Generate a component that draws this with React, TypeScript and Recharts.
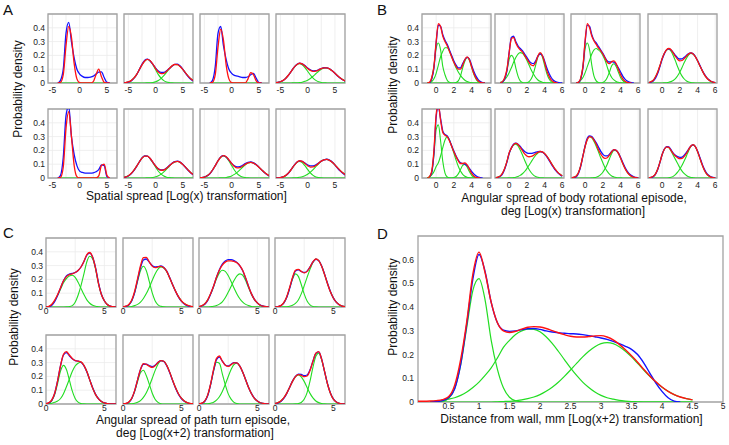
import React from 'react';
import { LineChart, Line, XAxis, YAxis, CartesianGrid, ReferenceArea } from 'recharts';

// ---------- x grids ----------
const A_X = [-6, -5.5, -5, -4.5, -4, -3.5, -3, -2.5, -2, -1.5, -1, -0.5, 0, 0.5, 1, 1.5, 2, 2.5, 3, 3.5, 4, 4.5, 5, 5.5, 6, 6.5, 7];
const B_X = [-1.5, -1.25, -1, -0.75, -0.5, -0.25, 0, 0.25, 0.5, 0.75, 1, 1.25, 1.5, 1.75, 2, 2.25, 2.5, 2.75, 3, 3.25, 3.5, 3.75, 4, 4.25, 4.5, 4.75, 5, 5.25, 5.5, 5.75, 6];
const C_X = [0, 0.25, 0.5, 0.75, 1, 1.25, 1.5, 1.75, 2, 2.25, 2.5, 2.75, 3, 3.25, 3.5, 3.75, 4, 4.25, 4.5, 4.75, 5, 5.25, 5.5, 5.75, 6];
const D_X = [0, 0.1, 0.2, 0.3, 0.4, 0.5, 0.6, 0.7, 0.8, 0.9, 1, 1.1, 1.2, 1.3, 1.4, 1.5, 1.6, 1.7, 1.8, 1.9, 2, 2.1, 2.2, 2.3, 2.4, 2.5, 2.6, 2.7, 2.8, 2.9, 3, 3.1, 3.2, 3.3, 3.4, 3.5, 3.6, 3.7, 3.8, 3.9, 4, 4.1, 4.2, 4.3, 4.4, 4.5];

// ---------- tick labels ----------
const SMALL_Y_TICKS = [0, 0.1, 0.2, 0.3, 0.4];
const A_TICKS = [-5, -2.5, 0, 2.5, 5];
const A_LABELS = [-5, 0, 5];
const B_TICKS = [0, 2, 4, 6];
const C_TICKS = [0, 2.5, 5];
const C_LABELS = [0, 5];
const D_X_TICKS = [0.5, 1, 1.5, 2, 2.5, 3, 3.5, 4, 4.5, 5];
const D_Y_TICKS = [0, 0.1, 0.2, 0.3, 0.4, 0.5, 0.6];

// ---------- panel A ----------
const A1_BLUE = [null, null, null, null, 0, 0.02, 0.1, 0.36, 0.44, 0.3, 0.18, 0.1, 0.065, 0.048, 0.04, 0.04, 0.043, 0.05, 0.065, 0.078, 0.08, 0.04, 0.005, 0, null, null, null];
const A1_RED = [null, null, null, null, 0, 0.005, 0.06, 0.27, 0.41, 0.33, 0.14, 0.03, 0.002, 0, 0, 0, 0, 0.01, 0.06, 0.1, 0.045, 0.005, 0, 0, null, null, null];
const A1_G = [null, null, null, null, null, 0, 0, 0, 0, 0, 0, 0, 0, 0, 0, 0, 0, 0, 0, 0, 0, 0, 0, null, null, null, null];

const A2_BLUE = [0, 0.002, 0.006, 0.015, 0.033, 0.06, 0.097, 0.135, 0.165, 0.173, 0.16, 0.135, 0.108, 0.087, 0.077, 0.077, 0.088, 0.105, 0.122, 0.135, 0.137, 0.123, 0.098, 0.07, 0.045, 0.025, 0.012];
const A2_RED = [0.001, 0.003, 0.008, 0.017, 0.035, 0.061, 0.096, 0.132, 0.159, 0.171, 0.161, 0.136, 0.105, 0.079, 0.068, 0.07, 0.085, 0.105, 0.124, 0.134, 0.133, 0.119, 0.097, 0.072, 0.048, 0.029, 0.016];
const A2_G1 = [0.001, 0.003, 0.0075, 0.017, 0.035, 0.061, 0.096, 0.132, 0.159, 0.17, 0.159, 0.132, 0.096, 0.061, 0.035, 0.017, 0.0075, 0.003, 0.001, 0, 0, 0, 0, 0, 0, 0, 0];
const A2_G2 = [0, 0, 0, 0, 0, 0, 0, 0, 0, 0.001, 0.002, 0.004, 0.009, 0.018, 0.033, 0.053, 0.077, 0.102, 0.123, 0.134, 0.133, 0.119, 0.097, 0.072, 0.048, 0.029, 0.016];

const A3_BLUE = [null, null, null, null, 0, 0.02, 0.12, 0.36, 0.41, 0.27, 0.17, 0.1, 0.07, 0.055, 0.05, 0.045, 0.04, 0.04, 0.045, 0.06, 0.07, 0.035, 0.003, 0, null, null, null];
const A3_RED = [null, null, null, null, 0, 0.005, 0.06, 0.26, 0.39, 0.31, 0.13, 0.03, 0.002, 0, 0, 0, 0, 0, 0.03, 0.075, 0.06, 0.015, 0, 0, null, null, null];

const A4_BLUE = [0.002, 0.004, 0.009, 0.018, 0.034, 0.057, 0.085, 0.113, 0.134, 0.144, 0.139, 0.126, 0.108, 0.095, 0.088, 0.089, 0.096, 0.105, 0.111, 0.11, 0.103, 0.089, 0.071, 0.051, 0.035, 0.022, 0.012];
const A4_RED = [0.002, 0.004, 0.009, 0.019, 0.035, 0.058, 0.085, 0.113, 0.133, 0.143, 0.138, 0.124, 0.105, 0.091, 0.084, 0.086, 0.094, 0.104, 0.11, 0.109, 0.102, 0.088, 0.071, 0.052, 0.036, 0.023, 0.013];
const A4_G1 = [0.0015, 0.004, 0.009, 0.019, 0.035, 0.058, 0.085, 0.112, 0.132, 0.14, 0.132, 0.112, 0.085, 0.058, 0.035, 0.019, 0.009, 0.004, 0.0015, 0.0005, 0, 0, 0, 0, 0, 0, 0];
const A4_G2 = [0, 0, 0, 0, 0, 0, 0.0005, 0.001, 0.0014, 0.003, 0.006, 0.012, 0.02, 0.033, 0.049, 0.067, 0.085, 0.1, 0.108, 0.109, 0.102, 0.088, 0.071, 0.052, 0.036, 0.023, 0.013];

const A5_BLUE = [null, null, null, null, 0, 0.02, 0.15, 0.45, 0.52, 0.3, 0.17, 0.09, 0.05, 0.04, 0.035, 0.035, 0.035, 0.038, 0.045, 0.06, 0.095, 0.09, 0.01, 0, null, null, null];
const A5_RED = [null, null, null, null, 0, 0.005, 0.08, 0.36, 0.48, 0.3, 0.09, 0.01, 0, 0, 0, 0, 0, 0, 0, 0.015, 0.09, 0.1, 0.02, 0, null, null, null];

const A6_BLUE = [0.002, 0.006, 0.014, 0.03, 0.053, 0.083, 0.116, 0.146, 0.161, 0.159, 0.141, 0.113, 0.086, 0.066, 0.058, 0.06, 0.072, 0.09, 0.107, 0.119, 0.122, 0.115, 0.098, 0.076, 0.054, 0.035, 0.021];
const A6_RED = [0.003, 0.008, 0.016, 0.032, 0.055, 0.084, 0.116, 0.144, 0.159, 0.158, 0.141, 0.114, 0.087, 0.065, 0.056, 0.058, 0.07, 0.088, 0.105, 0.117, 0.12, 0.113, 0.097, 0.077, 0.056, 0.037, 0.023];
const A6_G1 = [0.003, 0.008, 0.016, 0.032, 0.055, 0.084, 0.116, 0.144, 0.159, 0.157, 0.139, 0.11, 0.078, 0.049, 0.028, 0.014, 0.006, 0.0026, 0.001, 0, 0, 0, 0, 0, 0, 0, 0];
const A6_G2 = [0, 0, 0, 0, 0, 0, 0, 0, 0, 0.001, 0.002, 0.004, 0.009, 0.016, 0.028, 0.044, 0.064, 0.085, 0.104, 0.117, 0.12, 0.113, 0.097, 0.077, 0.056, 0.037, 0.023];

const A7_BLUE = [0.001, 0.003, 0.007, 0.015, 0.031, 0.057, 0.09, 0.125, 0.153, 0.162, 0.152, 0.13, 0.106, 0.088, 0.08, 0.082, 0.092, 0.104, 0.113, 0.116, 0.11, 0.097, 0.079, 0.059, 0.04, 0.024, 0.013];
const A7_RED = [0.001, 0.003, 0.007, 0.016, 0.032, 0.058, 0.09, 0.124, 0.151, 0.162, 0.154, 0.132, 0.105, 0.084, 0.073, 0.075, 0.085, 0.099, 0.109, 0.113, 0.108, 0.096, 0.078, 0.059, 0.041, 0.026, 0.015];
const A7_G1 = [0.001, 0.003, 0.007, 0.016, 0.032, 0.058, 0.09, 0.124, 0.15, 0.16, 0.15, 0.124, 0.09, 0.058, 0.032, 0.016, 0.007, 0.003, 0.001, 0, 0, 0, 0, 0, 0, 0, 0];
const A7_G2 = [0, 0, 0, 0, 0, 0, 0, 0, 0.001, 0.002, 0.004, 0.008, 0.015, 0.026, 0.041, 0.059, 0.078, 0.096, 0.108, 0.113, 0.108, 0.096, 0.078, 0.059, 0.041, 0.026, 0.015];

const A8_BLUE = [0, 0.001, 0.003, 0.008, 0.018, 0.036, 0.062, 0.091, 0.114, 0.124, 0.12, 0.108, 0.095, 0.088, 0.088, 0.095, 0.108, 0.122, 0.132, 0.136, 0.13, 0.116, 0.095, 0.071, 0.05, 0.033, 0.019];
const A8_RED = [0, 0.001, 0.003, 0.008, 0.019, 0.037, 0.062, 0.09, 0.113, 0.125, 0.12, 0.105, 0.089, 0.079, 0.08, 0.09, 0.106, 0.122, 0.132, 0.135, 0.128, 0.114, 0.095, 0.073, 0.053, 0.036, 0.022];
const A8_G1 = [0, 0.001, 0.003, 0.008, 0.019, 0.037, 0.062, 0.089, 0.111, 0.12, 0.111, 0.089, 0.062, 0.037, 0.019, 0.008, 0.003, 0.001, 0, 0, 0, 0, 0, 0, 0, 0, 0];
const A8_G2 = [0, 0, 0, 0, 0, 0, 0, 0.001, 0.002, 0.005, 0.009, 0.016, 0.027, 0.042, 0.061, 0.082, 0.103, 0.121, 0.132, 0.135, 0.128, 0.114, 0.095, 0.073, 0.053, 0.036, 0.022];

// ---------- panel B ----------
const B1_BLUE = [null, null, null, 0, 0.03, 0.11, 0.29, 0.42, 0.41, 0.35, 0.31, 0.28, 0.24, 0.2, 0.16, 0.13, 0.11, 0.11, 0.14, 0.17, 0.185, 0.175, 0.13, 0.085, 0.05, 0.025, 0.01, 0.003, 0, null, null];
const B1_RED = [null, null, 0, 0.005, 0.04, 0.12, 0.3, 0.43, 0.41, 0.34, 0.3, 0.27, 0.23, 0.19, 0.15, 0.12, 0.1, 0.1, 0.13, 0.17, 0.19, 0.17, 0.12, 0.07, 0.035, 0.015, 0.005, 0.001, 0, null, null];
const B1_G1 = [null, null, 0, 0, 0.03, 0.12, 0.25, 0.29, 0.24, 0.12, 0.06, 0.02, 0.005, 0, 0, 0, 0, 0, 0, 0, 0, 0, 0, 0, 0, 0, 0, 0, 0, null, null];
const B1_G2 = [null, null, 0, 0, 0.01, 0.03, 0.07, 0.13, 0.19, 0.23, 0.255, 0.255, 0.23, 0.19, 0.15, 0.11, 0.08, 0.055, 0.035, 0.02, 0.01, 0.005, 0.002, 0, 0, 0, 0, 0, 0, null, null];
const B1_G3 = [null, null, 0, 0, 0, 0, 0, 0, 0, 0, 0, 0, 0, 0, 0, 0.003, 0.015, 0.05, 0.11, 0.16, 0.185, 0.165, 0.115, 0.065, 0.03, 0.01, 0.003, 0, 0, null, null];

const B2_BLUE = [null, null, 0.002, 0.008, 0.03, 0.09, 0.22, 0.33, 0.34, 0.3, 0.27, 0.25, 0.235, 0.21, 0.185, 0.16, 0.145, 0.14, 0.16, 0.195, 0.21, 0.2, 0.16, 0.11, 0.07, 0.04, 0.02, 0.01, 0.004, 0.001, 0];
const B2_RED = [null, null, 0.002, 0.01, 0.04, 0.1, 0.22, 0.32, 0.33, 0.29, 0.26, 0.24, 0.225, 0.2, 0.175, 0.15, 0.13, 0.125, 0.15, 0.195, 0.22, 0.2, 0.15, 0.09, 0.05, 0.022, 0.008, 0.002, 0, null, null];
const B2_G1 = [null, null, 0, 0.005, 0.03, 0.09, 0.17, 0.2, 0.18, 0.11, 0.05, 0.015, 0.004, 0, 0, 0, 0, 0, 0, 0, 0, 0, 0, 0, 0, 0, 0, 0, 0, null, null];
const B2_G2 = [null, null, 0.005, 0.012, 0.025, 0.045, 0.075, 0.11, 0.15, 0.185, 0.21, 0.22, 0.215, 0.195, 0.165, 0.13, 0.095, 0.065, 0.04, 0.022, 0.012, 0.005, 0.002, 0, 0, 0, 0, 0, 0, null, null];
const B2_G3 = [null, null, 0, 0, 0, 0, 0, 0, 0, 0, 0, 0, 0, 0, 0.002, 0.01, 0.03, 0.07, 0.13, 0.19, 0.215, 0.19, 0.13, 0.07, 0.03, 0.01, 0.002, 0, 0, null, null];

const B3_BLUE = [null, null, 0, 0.004, 0.03, 0.11, 0.3, 0.42, 0.41, 0.35, 0.31, 0.29, 0.265, 0.24, 0.215, 0.185, 0.16, 0.152, 0.155, 0.15, 0.135, 0.11, 0.08, 0.05, 0.028, 0.014, 0.006, 0.002, 0, null, null];
const B3_RED = [null, null, 0, 0.005, 0.035, 0.12, 0.31, 0.43, 0.4, 0.34, 0.305, 0.28, 0.255, 0.235, 0.21, 0.18, 0.15, 0.14, 0.155, 0.16, 0.14, 0.1, 0.06, 0.03, 0.012, 0.004, 0.001, 0, null, null, null];
const B3_G1 = [null, null, 0, 0, 0.03, 0.12, 0.25, 0.29, 0.24, 0.13, 0.05, 0.015, 0.003, 0, 0, 0, 0, 0, 0, 0, 0, 0, 0, 0, 0, 0, 0, 0, null, null, null];
const B3_G2 = [null, null, 0, 0.005, 0.02, 0.04, 0.075, 0.12, 0.165, 0.21, 0.24, 0.25, 0.24, 0.225, 0.2, 0.165, 0.115, 0.07, 0.04, 0.022, 0.011, 0.005, 0.002, 0, 0, 0, 0, 0, null, null, null];
const B3_G3 = [null, null, 0, 0, 0, 0, 0, 0, 0, 0, 0, 0, 0, 0, 0.004, 0.015, 0.04, 0.08, 0.125, 0.14, 0.12, 0.08, 0.04, 0.017, 0.005, 0.001, 0, 0, null, null, null];

const B4_BLUE = [0.002, 0.007, 0.015, 0.035, 0.07, 0.12, 0.172, 0.213, 0.24, 0.248, 0.24, 0.222, 0.2, 0.182, 0.174, 0.175, 0.186, 0.2, 0.213, 0.218, 0.212, 0.192, 0.163, 0.13, 0.096, 0.066, 0.042, 0.025, 0.013, 0.006, 0.003];
const B4_RED = [0.003, 0.01, 0.02, 0.045, 0.08, 0.127, 0.177, 0.215, 0.241, 0.25, 0.241, 0.218, 0.192, 0.171, 0.16, 0.163, 0.177, 0.195, 0.211, 0.218, 0.211, 0.191, 0.161, 0.127, 0.093, 0.063, 0.04, 0.023, 0.013, 0.006, 0.003];
const B4_G1 = [0.003, 0.01, 0.02, 0.045, 0.08, 0.125, 0.177, 0.214, 0.239, 0.245, 0.231, 0.2, 0.16, 0.118, 0.08, 0.05, 0.029, 0.015, 0.007, 0.003, 0.001, 0, 0, 0, 0, 0, 0, 0, 0, 0, 0];
const B4_G2 = [0, 0, 0, 0, 0, 0, 0, 0.001, 0.002, 0.005, 0.01, 0.018, 0.032, 0.053, 0.08, 0.113, 0.148, 0.18, 0.204, 0.215, 0.21, 0.191, 0.161, 0.127, 0.093, 0.063, 0.04, 0.023, 0.013, 0.006, 0.003];

const B5_BLUE = [null, null, null, 0.008, 0.04, 0.18, 0.44, 0.52, 0.43, 0.34, 0.315, 0.305, 0.275, 0.235, 0.195, 0.16, 0.13, 0.11, 0.105, 0.1, 0.09, 0.07, 0.048, 0.03, 0.016, 0.007, 0.002, 0, null, null, null];
const B5_RED = [null, null, 0, 0.01, 0.05, 0.2, 0.46, 0.53, 0.42, 0.33, 0.31, 0.3, 0.27, 0.23, 0.19, 0.155, 0.125, 0.105, 0.105, 0.11, 0.095, 0.065, 0.035, 0.015, 0.005, 0.001, 0, null, null, null, null];
const B5_G1 = [null, null, 0, 0.005, 0.04, 0.17, 0.35, 0.385, 0.27, 0.12, 0.035, 0.007, 0.001, 0, 0, 0, 0, 0, 0, 0, 0, 0, 0, 0, 0, 0, 0, null, null, null, null];
const B5_G2 = [null, null, 0, 0.01, 0.023, 0.046, 0.083, 0.11, 0.16, 0.22, 0.275, 0.3, 0.277, 0.229, 0.18, 0.13, 0.085, 0.05, 0.027, 0.013, 0.005, 0.002, 0, 0, 0, 0, 0, null, null, null, null];
const B5_G3 = [null, null, 0, 0, 0, 0, 0, 0, 0, 0, 0, 0, 0, 0, 0.003, 0.011, 0.03, 0.061, 0.091, 0.099, 0.08, 0.047, 0.021, 0.007, 0.002, 0, 0, null, null, null, null];

const B6_BLUE = [0.002, 0.005, 0.012, 0.03, 0.065, 0.115, 0.178, 0.218, 0.245, 0.252, 0.245, 0.228, 0.208, 0.192, 0.182, 0.178, 0.178, 0.182, 0.187, 0.191, 0.192, 0.188, 0.175, 0.155, 0.13, 0.103, 0.078, 0.055, 0.037, 0.023, 0.013];
const B6_RED = [0.003, 0.007, 0.015, 0.035, 0.07, 0.12, 0.182, 0.218, 0.242, 0.251, 0.243, 0.222, 0.199, 0.175, 0.16, 0.154, 0.156, 0.164, 0.176, 0.186, 0.192, 0.189, 0.177, 0.159, 0.135, 0.108, 0.083, 0.06, 0.041, 0.027, 0.016];
const B6_G1 = [0.003, 0.007, 0.015, 0.035, 0.07, 0.12, 0.178, 0.215, 0.239, 0.245, 0.232, 0.203, 0.168, 0.128, 0.092, 0.062, 0.038, 0.021, 0.011, 0.005, 0.002, 0.001, 0, 0, 0, 0, 0, 0, 0, 0, 0];
const B6_G2 = [0, 0, 0, 0, 0, 0, 0.001, 0.002, 0.003, 0.006, 0.011, 0.019, 0.031, 0.047, 0.068, 0.092, 0.118, 0.143, 0.165, 0.181, 0.19, 0.188, 0.177, 0.159, 0.135, 0.108, 0.083, 0.06, 0.041, 0.027, 0.016];

const B7_BLUE = [0.001, 0.004, 0.01, 0.035, 0.085, 0.16, 0.235, 0.29, 0.305, 0.3, 0.28, 0.255, 0.225, 0.195, 0.172, 0.16, 0.16, 0.172, 0.192, 0.205, 0.2, 0.182, 0.15, 0.112, 0.078, 0.05, 0.03, 0.017, 0.009, 0.004, 0.002];
const B7_RED = [0.002, 0.006, 0.015, 0.04, 0.09, 0.16, 0.23, 0.28, 0.3, 0.295, 0.275, 0.245, 0.205, 0.174, 0.152, 0.142, 0.147, 0.166, 0.19, 0.206, 0.201, 0.18, 0.145, 0.105, 0.07, 0.043, 0.024, 0.012, 0.006, 0.003, 0.001];
const B7_G1 = [0.002, 0.006, 0.015, 0.04, 0.09, 0.16, 0.23, 0.28, 0.3, 0.29, 0.265, 0.23, 0.19, 0.148, 0.11, 0.075, 0.048, 0.028, 0.015, 0.008, 0.004, 0.002, 0.001, 0, 0, 0, 0, 0, 0, 0, 0];
const B7_G2 = [0, 0, 0, 0, 0, 0, 0, 0, 0, 0.001, 0.003, 0.006, 0.012, 0.024, 0.042, 0.068, 0.1, 0.14, 0.177, 0.2, 0.198, 0.178, 0.145, 0.105, 0.07, 0.043, 0.024, 0.012, 0.006, 0.003, 0.001];

const B8_BLUE = [0.001, 0.004, 0.01, 0.028, 0.062, 0.113, 0.17, 0.21, 0.228, 0.225, 0.205, 0.18, 0.165, 0.155, 0.15, 0.152, 0.165, 0.185, 0.21, 0.232, 0.24, 0.228, 0.195, 0.152, 0.106, 0.067, 0.038, 0.02, 0.009, 0.004, 0.002];
const B8_RED = [0.002, 0.005, 0.012, 0.03, 0.065, 0.115, 0.17, 0.208, 0.226, 0.222, 0.2, 0.177, 0.16, 0.147, 0.14, 0.142, 0.157, 0.178, 0.207, 0.232, 0.242, 0.227, 0.192, 0.146, 0.099, 0.06, 0.032, 0.016, 0.007, 0.003, 0.001];
const B8_G1 = [0.002, 0.005, 0.012, 0.03, 0.065, 0.115, 0.17, 0.208, 0.225, 0.22, 0.195, 0.165, 0.135, 0.105, 0.075, 0.05, 0.032, 0.018, 0.009, 0.004, 0.002, 0, 0, 0, 0, 0, 0, 0, 0, 0, 0];
const B8_G2 = [0, 0, 0, 0, 0, 0, 0, 0, 0, 0.002, 0.005, 0.012, 0.025, 0.042, 0.065, 0.092, 0.125, 0.16, 0.198, 0.228, 0.24, 0.227, 0.192, 0.146, 0.099, 0.06, 0.032, 0.016, 0.007, 0.003, 0.001];

// ---------- panel C ----------
const C1_BLUE = [0, 0.002, 0.012, 0.04, 0.085, 0.14, 0.19, 0.225, 0.238, 0.243, 0.25, 0.265, 0.29, 0.33, 0.375, 0.39, 0.36, 0.283, 0.175, 0.092, 0.045, 0.018, 0.006, 0.002, 0];
const C1_RED = [0, 0.005, 0.02, 0.05, 0.09, 0.14, 0.19, 0.22, 0.235, 0.24, 0.25, 0.265, 0.29, 0.33, 0.38, 0.395, 0.36, 0.28, 0.17, 0.09, 0.045, 0.018, 0.006, 0.002, 0];
const C1_G1 = [0, 0.004, 0.017, 0.045, 0.085, 0.13, 0.175, 0.205, 0.225, 0.23, 0.215, 0.18, 0.135, 0.09, 0.052, 0.027, 0.012, 0.005, 0.002, 0, 0, 0, 0, 0, 0];
const C1_G2 = [0, 0, 0, 0, 0, 0, 0, 0.001, 0.003, 0.01, 0.035, 0.085, 0.155, 0.24, 0.328, 0.368, 0.348, 0.275, 0.168, 0.09, 0.045, 0.018, 0.006, 0.002, 0];

const C2_BLUE = [0, 0.004, 0.015, 0.045, 0.105, 0.195, 0.285, 0.34, 0.348, 0.325, 0.3, 0.29, 0.293, 0.297, 0.287, 0.26, 0.213, 0.163, 0.115, 0.073, 0.042, 0.022, 0.01, 0.004, 0.001];
const C2_RED = [0.001, 0.006, 0.018, 0.05, 0.114, 0.205, 0.299, 0.357, 0.36, 0.328, 0.296, 0.285, 0.29, 0.295, 0.284, 0.258, 0.211, 0.162, 0.115, 0.075, 0.045, 0.025, 0.013, 0.006, 0.003];
const C2_G1 = [0.001, 0.005, 0.016, 0.046, 0.104, 0.186, 0.263, 0.295, 0.263, 0.186, 0.104, 0.046, 0.016, 0.005, 0.001, 0, 0, 0, 0, 0, 0, 0, 0, 0, 0];
const C2_G2 = [0, 0.001, 0.002, 0.004, 0.01, 0.019, 0.036, 0.062, 0.097, 0.142, 0.192, 0.239, 0.274, 0.29, 0.283, 0.255, 0.211, 0.162, 0.115, 0.075, 0.045, 0.025, 0.013, 0.006, 0.003];

const C3_BLUE = [0.002, 0.008, 0.02, 0.048, 0.094, 0.15, 0.215, 0.27, 0.31, 0.333, 0.344, 0.343, 0.336, 0.322, 0.298, 0.262, 0.208, 0.148, 0.095, 0.056, 0.03, 0.014, 0.006, 0.002, 0];
const C3_RED = [0.003, 0.01, 0.024, 0.052, 0.097, 0.152, 0.215, 0.268, 0.304, 0.325, 0.334, 0.334, 0.33, 0.321, 0.3, 0.265, 0.211, 0.149, 0.095, 0.055, 0.03, 0.013, 0.006, 0.002, 0];
const C3_G1 = [0.003, 0.01, 0.024, 0.052, 0.095, 0.147, 0.204, 0.247, 0.266, 0.258, 0.228, 0.185, 0.138, 0.095, 0.06, 0.035, 0.019, 0.01, 0.004, 0.002, 0.001, 0, 0, 0, 0];
const C3_G2 = [0, 0, 0, 0, 0.002, 0.005, 0.011, 0.021, 0.038, 0.067, 0.106, 0.149, 0.192, 0.226, 0.24, 0.23, 0.192, 0.139, 0.091, 0.053, 0.029, 0.013, 0.006, 0.002, 0];

const C4_BLUE = [0, 0.002, 0.01, 0.028, 0.068, 0.133, 0.208, 0.26, 0.27, 0.258, 0.25, 0.26, 0.29, 0.326, 0.346, 0.336, 0.297, 0.238, 0.172, 0.112, 0.066, 0.035, 0.016, 0.006, 0.002];
const C4_RED = [0, 0.002, 0.01, 0.031, 0.073, 0.14, 0.214, 0.266, 0.273, 0.258, 0.248, 0.258, 0.289, 0.327, 0.348, 0.336, 0.295, 0.235, 0.169, 0.11, 0.065, 0.035, 0.017, 0.007, 0.003];
const C4_G1 = [0, 0.002, 0.01, 0.03, 0.071, 0.135, 0.202, 0.24, 0.222, 0.163, 0.095, 0.043, 0.016, 0.004, 0.001, 0, 0, 0, 0, 0, 0, 0, 0, 0, 0];
const C4_G2 = [0, 0, 0, 0.001, 0.002, 0.005, 0.012, 0.026, 0.051, 0.095, 0.153, 0.215, 0.273, 0.323, 0.347, 0.336, 0.295, 0.235, 0.169, 0.11, 0.065, 0.035, 0.017, 0.007, 0.003];

const C5_BLUE = [0.002, 0.008, 0.028, 0.078, 0.17, 0.28, 0.355, 0.372, 0.35, 0.328, 0.315, 0.31, 0.303, 0.278, 0.233, 0.175, 0.117, 0.07, 0.038, 0.018, 0.008, 0.003, 0.001, 0, 0];
const C5_RED = [0.003, 0.01, 0.03, 0.08, 0.17, 0.28, 0.36, 0.38, 0.355, 0.33, 0.315, 0.31, 0.305, 0.28, 0.235, 0.175, 0.115, 0.068, 0.037, 0.018, 0.008, 0.003, 0.001, 0, 0];
const C5_G1 = [0.001, 0.006, 0.024, 0.07, 0.15, 0.24, 0.28, 0.25, 0.175, 0.095, 0.04, 0.013, 0.003, 0.001, 0, 0, 0, 0, 0, 0, 0, 0, 0, 0, 0];
const C5_G2 = [0, 0.002, 0.005, 0.012, 0.022, 0.04, 0.075, 0.125, 0.18, 0.235, 0.275, 0.295, 0.302, 0.279, 0.235, 0.175, 0.115, 0.068, 0.037, 0.018, 0.008, 0.003, 0.001, 0, 0];

const C6_BLUE = [0.001, 0.003, 0.012, 0.04, 0.095, 0.175, 0.25, 0.288, 0.288, 0.278, 0.271, 0.281, 0.301, 0.315, 0.308, 0.277, 0.228, 0.17, 0.116, 0.071, 0.04, 0.02, 0.009, 0.003, 0.001];
const C6_RED = [0.001, 0.004, 0.015, 0.042, 0.097, 0.175, 0.251, 0.293, 0.287, 0.274, 0.265, 0.277, 0.3, 0.315, 0.31, 0.28, 0.231, 0.173, 0.119, 0.074, 0.042, 0.022, 0.01, 0.004, 0.002];
const C6_G1 = [0.001, 0.004, 0.014, 0.04, 0.092, 0.163, 0.226, 0.245, 0.205, 0.145, 0.08, 0.035, 0.012, 0.002, 0, 0, 0, 0, 0, 0, 0, 0, 0, 0, 0];
const C6_G2 = [0, 0, 0.001, 0.002, 0.005, 0.012, 0.025, 0.048, 0.082, 0.129, 0.185, 0.242, 0.288, 0.313, 0.31, 0.28, 0.231, 0.173, 0.119, 0.074, 0.042, 0.022, 0.01, 0.004, 0.002];

const C7_BLUE = [0.001, 0.005, 0.02, 0.062, 0.143, 0.243, 0.322, 0.34, 0.31, 0.283, 0.276, 0.288, 0.3, 0.298, 0.274, 0.23, 0.176, 0.12, 0.075, 0.042, 0.021, 0.009, 0.004, 0.001, 0];
const C7_RED = [0.001, 0.006, 0.023, 0.066, 0.148, 0.251, 0.331, 0.348, 0.31, 0.281, 0.272, 0.285, 0.298, 0.298, 0.274, 0.23, 0.175, 0.119, 0.074, 0.041, 0.021, 0.009, 0.004, 0.001, 0];
const C7_G1 = [0.001, 0.006, 0.022, 0.064, 0.142, 0.238, 0.303, 0.295, 0.219, 0.14, 0.075, 0.035, 0.012, 0.003, 0, 0, 0, 0, 0, 0, 0, 0, 0, 0, 0];
const C7_G2 = [0, 0, 0.001, 0.002, 0.006, 0.013, 0.028, 0.053, 0.091, 0.141, 0.197, 0.25, 0.286, 0.295, 0.274, 0.23, 0.175, 0.119, 0.074, 0.041, 0.021, 0.009, 0.004, 0.001, 0];

const C8_BLUE = [0.002, 0.007, 0.018, 0.04, 0.075, 0.12, 0.166, 0.2, 0.217, 0.214, 0.205, 0.21, 0.247, 0.31, 0.366, 0.377, 0.325, 0.235, 0.147, 0.08, 0.037, 0.015, 0.005, 0.001, 0];
const C8_RED = [0.004, 0.01, 0.022, 0.044, 0.077, 0.12, 0.164, 0.198, 0.213, 0.208, 0.198, 0.203, 0.242, 0.309, 0.368, 0.379, 0.323, 0.236, 0.145, 0.078, 0.036, 0.015, 0.005, 0.001, 0];
const C8_G1 = [0.004, 0.01, 0.022, 0.044, 0.077, 0.12, 0.164, 0.197, 0.21, 0.197, 0.164, 0.12, 0.077, 0.044, 0.022, 0.01, 0.004, 0.001, 0, 0, 0, 0, 0, 0, 0];
const C8_G2 = [0, 0, 0, 0, 0, 0, 0, 0.001, 0.003, 0.011, 0.034, 0.083, 0.165, 0.265, 0.346, 0.369, 0.319, 0.235, 0.145, 0.078, 0.036, 0.015, 0.005, 0.001, 0];

// ---------- panel D ----------
const D_BLUE = [null, null, 0, 0.002, 0.006, 0.018, 0.055, 0.16, 0.33, 0.52, 0.622, 0.55, 0.42, 0.335, 0.303, 0.298, 0.3, 0.305, 0.309, 0.31, 0.306, 0.3, 0.295, 0.292, 0.29, 0.288, 0.287, 0.284, 0.28, 0.275, 0.27, 0.264, 0.256, 0.246, 0.235, 0.222, 0.2, 0.165, 0.122, 0.08, 0.045, 0.018, 0.004, 0, null, null];
const D_RED = [0.003, 0.003, 0.004, 0.006, 0.01, 0.022, 0.07, 0.18, 0.34, 0.54, 0.632, 0.545, 0.42, 0.335, 0.3, 0.293, 0.298, 0.307, 0.315, 0.318, 0.316, 0.31, 0.301, 0.292, 0.284, 0.277, 0.274, 0.274, 0.276, 0.279, 0.28, 0.274, 0.262, 0.243, 0.22, 0.195, 0.168, 0.138, 0.11, 0.085, 0.063, 0.045, 0.031, 0.021, 0.014, 0.009];
const D_G1 = [null, null, 0, 0.001, 0.003, 0.015, 0.056, 0.156, 0.316, 0.471, 0.52, 0.43, 0.26, 0.14, 0.06, 0.02, 0.005, 0.001, 0, 0, 0, 0, 0, 0, 0, 0, 0, 0, 0, 0, 0, 0, 0, 0, 0, 0, 0, 0, 0, 0, 0, 0, 0, 0, 0, 0];
const D_G2 = [null, null, 0.002, 0.004, 0.007, 0.012, 0.018, 0.028, 0.042, 0.061, 0.084, 0.112, 0.144, 0.185, 0.23, 0.26, 0.285, 0.3, 0.307, 0.306, 0.296, 0.275, 0.247, 0.214, 0.179, 0.144, 0.112, 0.084, 0.061, 0.042, 0.028, 0.018, 0.012, 0.007, 0.004, 0.002, 0.001, 0, 0, 0, 0, 0, 0, 0, 0, 0];
const D_G3 = [null, null, 0, 0, 0, 0, 0, 0, 0, 0, 0, 0, 0, 0.001, 0.002, 0.003, 0.005, 0.009, 0.014, 0.021, 0.031, 0.045, 0.062, 0.083, 0.108, 0.135, 0.163, 0.19, 0.214, 0.233, 0.246, 0.25, 0.246, 0.233, 0.214, 0.19, 0.163, 0.135, 0.108, 0.083, 0.062, 0.045, 0.031, 0.021, 0.014, 0.009];

// ---------- styling ----------
const FONT = '"Liberation Sans", Arial, Helvetica, sans-serif';
const BLUE = '#1212ff';
const RED = '#ff1212';
const GREEN = '#22dd22';
const FRAME = '#a3a3a3';
const TICK_STYLE = { fontSize: 8.5, fill: '#222', fontFamily: FONT };

type Arr = (number | null)[];
type PanelDef = { blue: Arr; red: Arr; greens: Arr[] };

const A_PANELS: PanelDef[] = [
  { blue: A1_BLUE, red: A1_RED, greens: [A1_G] },
  { blue: A2_BLUE, red: A2_RED, greens: [A2_G1, A2_G2] },
  { blue: A3_BLUE, red: A3_RED, greens: [A1_G] },
  { blue: A4_BLUE, red: A4_RED, greens: [A4_G1, A4_G2] },
  { blue: A5_BLUE, red: A5_RED, greens: [A1_G] },
  { blue: A6_BLUE, red: A6_RED, greens: [A6_G1, A6_G2] },
  { blue: A7_BLUE, red: A7_RED, greens: [A7_G1, A7_G2] },
  { blue: A8_BLUE, red: A8_RED, greens: [A8_G1, A8_G2] },
];
const B_PANELS: PanelDef[] = [
  { blue: B1_BLUE, red: B1_RED, greens: [B1_G1, B1_G2, B1_G3] },
  { blue: B2_BLUE, red: B2_RED, greens: [B2_G1, B2_G2, B2_G3] },
  { blue: B3_BLUE, red: B3_RED, greens: [B3_G1, B3_G2, B3_G3] },
  { blue: B4_BLUE, red: B4_RED, greens: [B4_G1, B4_G2] },
  { blue: B5_BLUE, red: B5_RED, greens: [B5_G1, B5_G2, B5_G3] },
  { blue: B6_BLUE, red: B6_RED, greens: [B6_G1, B6_G2] },
  { blue: B7_BLUE, red: B7_RED, greens: [B7_G1, B7_G2] },
  { blue: B8_BLUE, red: B8_RED, greens: [B8_G1, B8_G2] },
];
const C_PANELS: PanelDef[] = [
  { blue: C1_BLUE, red: C1_RED, greens: [C1_G1, C1_G2] },
  { blue: C2_BLUE, red: C2_RED, greens: [C2_G1, C2_G2] },
  { blue: C3_BLUE, red: C3_RED, greens: [C3_G1, C3_G2] },
  { blue: C4_BLUE, red: C4_RED, greens: [C4_G1, C4_G2] },
  { blue: C5_BLUE, red: C5_RED, greens: [C5_G1, C5_G2] },
  { blue: C6_BLUE, red: C6_RED, greens: [C6_G1, C6_G2] },
  { blue: C7_BLUE, red: C7_RED, greens: [C7_G1, C7_G2] },
  { blue: C8_BLUE, red: C8_RED, greens: [C8_G1, C8_G2] },
];

function buildRows(xs: number[], def: PanelDef) {
  return xs.map((x, i) => {
    const row: Record<string, number | null> = { x, blue: def.blue[i], red: def.red[i] };
    def.greens.forEach((g, k) => {
      row['g' + k] = g[i];
    });
    return row;
  });
}

const fmtY = (v: number) => (v === 0 ? '0' : String(v));

type SmallProps = {
  left: number;
  top: number;
  w: number;
  h: number;
  xs: number[];
  def: PanelDef;
  xDomain: [number, number];
  xTicks: number[];
  labelTicks: number[];
  showY: boolean;
  xGap: number;
};

function SmallPanel({ left, top, w, h, xs, def, xDomain, xTicks, labelTicks, showY, xGap }: SmallProps) {
  const data = buildRows(xs, def);
  const YW = 30;
  const XH = 14;
  const MT = 2;
  const MR = 4;
  return (
    <div style={{ position: 'absolute', left: left - YW, top: top - MT }}>
      <LineChart width={YW + w + MR} height={MT + h + XH} data={data} margin={{ top: MT, right: MR, bottom: 0, left: 0 }}>
        <CartesianGrid stroke="#ebebeb" strokeWidth={0.8} />
        <XAxis
          dataKey="x"
          type="number"
          domain={xDomain}
          allowDataOverflow
          ticks={xTicks}
          interval={0}
          height={XH}
          axisLine={false}
          tickLine={false}
          tickSize={0}
          tickMargin={xGap}
          tick={TICK_STYLE}
          tickFormatter={(v: number) => (labelTicks.includes(v) ? String(v) : '')}
        />
        <YAxis
          type="number"
          domain={[0, 0.5]}
          allowDataOverflow
          ticks={SMALL_Y_TICKS}
          interval={0}
          width={YW}
          axisLine={false}
          tickLine={false}
          tickSize={1}
          tickMargin={2}
          tick={showY ? TICK_STYLE : false}
          tickFormatter={fmtY}
        />
        <ReferenceArea x1={xDomain[0]} x2={xDomain[1]} y1={0} y2={0.5} fill="none" stroke={FRAME} strokeWidth={1.3} ifOverflow="visible" />
        {def.greens.map((_, k) => (
          <Line key={k} type="monotone" dataKey={'g' + k} stroke={GREEN} strokeWidth={1.1} dot={false} activeDot={false} isAnimationActive={false} />
        ))}
        <Line type="monotone" dataKey="blue" stroke={BLUE} strokeWidth={1.3} dot={false} activeDot={false} isAnimationActive={false} />
        <Line type="monotone" dataKey="red" stroke={RED} strokeWidth={1.3} dot={false} activeDot={false} isAnimationActive={false} />
      </LineChart>
    </div>
  );
}

function BigPanel() {
  const def: PanelDef = { blue: D_BLUE, red: D_RED, greens: [D_G1, D_G2, D_G3] };
  const data = buildRows(D_X, def);
  const left = 418;
  const top = 236;
  const w = 305;
  const h = 166;
  const YW = 30;
  const XH = 12;
  const MT = 2;
  const MR = 4;
  return (
    <div style={{ position: 'absolute', left: left - YW, top: top - MT }}>
      <LineChart width={YW + w + MR} height={MT + h + XH} data={data} margin={{ top: MT, right: MR, bottom: 0, left: 0 }}>
        <XAxis
          dataKey="x"
          type="number"
          domain={[0, 5]}
          allowDataOverflow
          ticks={D_X_TICKS}
          interval={0}
          height={XH}
          axisLine={false}
          tickLine={false}
          tickSize={0}
          tickMargin={1}
          tick={TICK_STYLE}
          tickFormatter={(v: number) => String(v)}
        />
        <YAxis
          type="number"
          domain={[0, 0.7]}
          allowDataOverflow
          ticks={D_Y_TICKS}
          interval={0}
          width={YW}
          axisLine={false}
          tickLine={false}
          tickSize={1}
          tickMargin={3}
          tick={TICK_STYLE}
          tickFormatter={fmtY}
        />
        <ReferenceArea x1={0} x2={5} y1={0} y2={0.7} fill="none" stroke={FRAME} strokeWidth={1.3} ifOverflow="visible" />
        {def.greens.map((_, k) => (
          <Line key={k} type="monotone" dataKey={'g' + k} stroke={GREEN} strokeWidth={1.2} dot={false} activeDot={false} isAnimationActive={false} />
        ))}
        <Line type="monotone" dataKey="blue" stroke={BLUE} strokeWidth={1.4} dot={false} activeDot={false} isAnimationActive={false} />
        <Line type="monotone" dataKey="red" stroke={RED} strokeWidth={1.4} dot={false} activeDot={false} isAnimationActive={false} />
      </LineChart>
    </div>
  );
}

const A_LEFTS = [48, 124, 200, 276];
const B_LEFTS = [422, 495, 571, 648];
const C_LEFTS = [46, 123, 199, 275];
const AB_TOPS = [14, 109];
const C_TOPS = [238, 335];

export default function App() {
  return (
    <div style={{ position: 'absolute', left: 0, top: 0, width: 729, height: 445, background: '#fff', overflow: 'hidden', fontFamily: FONT }}>
      {A_PANELS.map((def, i) => (
        <SmallPanel
          key={'a' + i}
          left={A_LEFTS[i % 4]}
          top={AB_TOPS[Math.floor(i / 4)]}
          w={69}
          h={69}
          xs={A_X}
          def={def}
          xDomain={[-5.8, 6.85]}
          xTicks={A_TICKS}
          labelTicks={A_LABELS}
          showY={i % 4 === 0}
          xGap={4}
        />
      ))}
      {B_PANELS.map((def, i) => (
        <SmallPanel
          key={'b' + i}
          left={B_LEFTS[i % 4]}
          top={AB_TOPS[Math.floor(i / 4)]}
          w={69}
          h={69}
          xs={B_X}
          def={def}
          xDomain={[-1.6, 6.2]}
          xTicks={B_TICKS}
          labelTicks={B_TICKS}
          showY={i % 4 === 0}
          xGap={4}
        />
      ))}
      {C_PANELS.map((def, i) => (
        <SmallPanel
          key={'c' + i}
          left={C_LEFTS[i % 4]}
          top={C_TOPS[Math.floor(i / 4)]}
          w={70}
          h={69}
          xs={C_X}
          def={def}
          xDomain={[0, 6]}
          xTicks={C_TICKS}
          labelTicks={C_LABELS}
          showY={i % 4 === 0}
          xGap={1}
        />
      ))}
      <BigPanel />
      <svg width={729} height={445} style={{ position: 'absolute', left: 0, top: 0, pointerEvents: 'none' }} fontFamily={FONT} fill="#111">
        <text x={3} y={15} fontSize={15}>A</text>
        <text x={377} y={15} fontSize={15}>B</text>
        <text x={3} y={238} fontSize={15}>C</text>
        <text x={377} y={239} fontSize={15}>D</text>
        <text transform="translate(21.5,89) rotate(-90)" textAnchor="middle" fontSize={12}>Probability density</text>
        <text transform="translate(397,85) rotate(-90)" textAnchor="middle" fontSize={12}>Probability density</text>
        <text transform="translate(17.5,317) rotate(-90)" textAnchor="middle" fontSize={12}>Probability density</text>
        <text transform="translate(396.5,307) rotate(-90)" textAnchor="middle" fontSize={12}>Probability density</text>
        <text x={186.5} y={200} textAnchor="middle" fontSize={12}>Spatial spread [Log(x) transformation]</text>
        <text x={574} y={202} textAnchor="middle" fontSize={12}>Angular spread of body rotational episode,</text>
        <text x={573} y={215} textAnchor="middle" fontSize={12}>deg [Log(x) transformation]</text>
        <text x={193} y={424} textAnchor="middle" fontSize={12}>Angular spread of path turn episode,</text>
        <text x={195} y={437} textAnchor="middle" fontSize={12}>deg [Log(x+2) transformation]</text>
        <text x={571.5} y={423} textAnchor="middle" fontSize={12}>Distance from wall, mm [Log(x+2) transformation]</text>
      </svg>
    </div>
  );
}
